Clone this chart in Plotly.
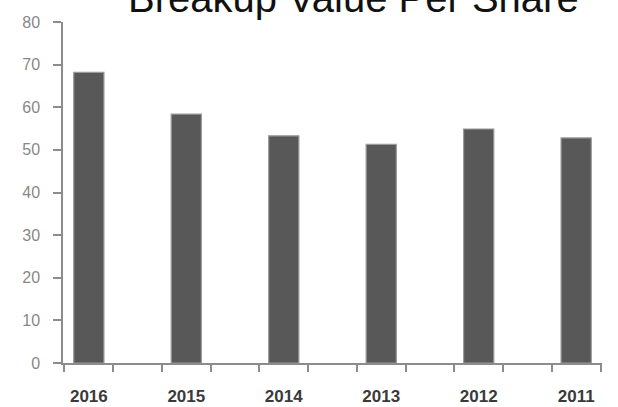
import plotly.graph_objects as go

# Breakup value per share by year
years = ["2016", "2015", "2014", "2013", "2012", "2011"]
values = [68.2, 58.4, 53.3, 51.3, 54.9, 52.8]
y_ticks = [0, 10, 20, 30, 40, 50, 60, 70, 80]

positions = list(range(len(years)))

fig = go.Figure()
fig.add_trace(go.Bar(
    x=positions,
    y=values,
    width=0.31,
    marker=dict(color="#585858", line=dict(color="#9a9a9a", width=1.2)),
    showlegend=False,
))

fig.update_layout(
    width=618,
    height=407,
    margin=dict(l=63, r=16, t=22, b=44),
    paper_bgcolor="white",
    plot_bgcolor="white",
    font=dict(family="Liberation Sans, Arial, sans-serif"),
    annotations=[dict(
        text="Breakup Value Per Share",
        xref="paper", yref="paper",
        x=333 / 618, y=1.0, xanchor="center", yanchor="bottom",
        showarrow=False,
        font=dict(size=40, color="#111111"),
    )],
)

fig.update_xaxes(
    range=[-0.265, 5.265],
    tickvals=positions,
    ticktext=years,
    ticks="",
    showline=True,
    linecolor="#8c8c8c",
    linewidth=1.5,
    showgrid=False,
    zeroline=False,
    automargin=False,
    tickfont=dict(size=17, color="#3a3a3a", weight="bold"),
    ticklabelstandoff=17,
    minor=dict(ticks="outside", tick0=-0.25, dtick=0.5, ticklen=7,
               tickcolor="#8c8c8c", tickwidth=1.5, showgrid=False),
)

fig.update_yaxes(
    range=[0, 80],
    tickvals=y_ticks,
    ticks="outside",
    ticklen=8,
    tickcolor="#8c8c8c",
    tickwidth=1.5,
    showline=True,
    linecolor="#8c8c8c",
    linewidth=1.5,
    showgrid=False,
    zeroline=False,
    automargin=False,
    tickfont=dict(size=16, color="#888888"),
    ticklabelstandoff=10,
)

fig.write_html("out.html")
